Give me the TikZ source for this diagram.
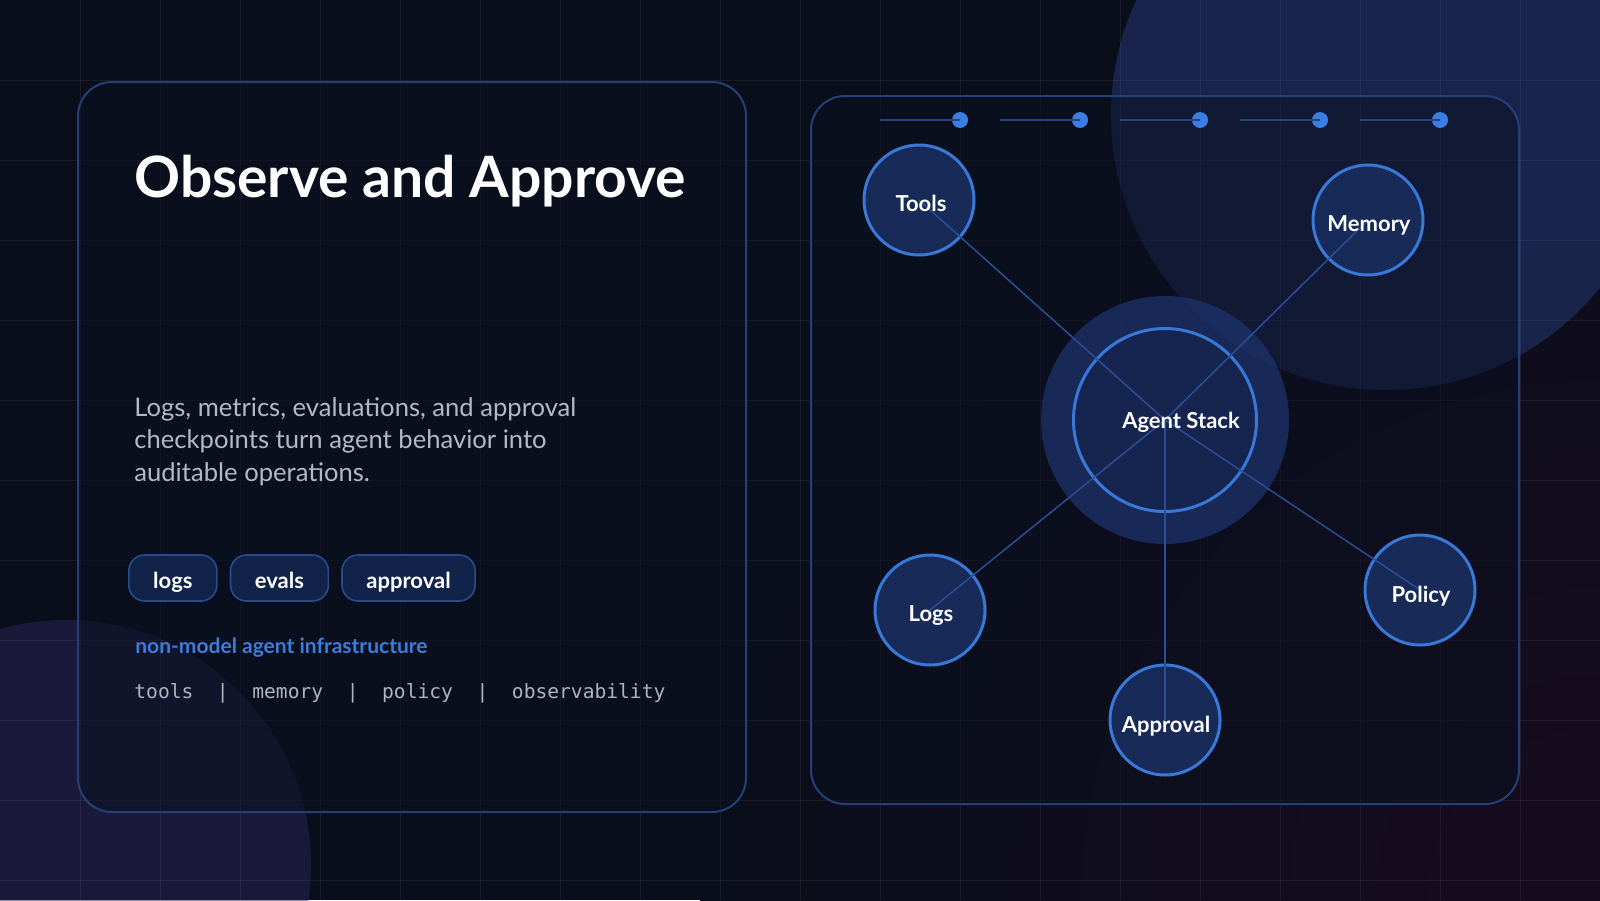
\documentclass[tikz,border=0pt]{standalone}
\usepackage{fontspec}
\setmainfont{Lato}
\newfontfamily\codefont{DejaVu Sans Mono}
\usetikzlibrary{positioning}
\definecolor{bgdark}{HTML}{0A0E1A}
\definecolor{bgplum}{HTML}{170C1E}
\definecolor{panelfill}{HTML}{0B1020}
\definecolor{panelline}{HTML}{24407A}
\definecolor{nodefill}{HTML}{172A58}
\definecolor{agentfill}{HTML}{16254F}
\definecolor{halofill}{HTML}{1E3470}
\definecolor{nodeline}{HTML}{3A78D8}
\definecolor{spokeblue}{HTML}{2B4E94}
\definecolor{railblue}{HTML}{27447A}
\definecolor{dotblue}{HTML}{3B7DE0}
\definecolor{accent}{HTML}{3B7DDD}
\definecolor{bodygray}{HTML}{B4B9C6}
\definecolor{monogray}{HTML}{B0B4BE}
\definecolor{pillfill}{HTML}{12234A}
\definecolor{pillline}{HTML}{294B8C}
\definecolor{orbblue}{HTML}{1D2C5C}
\definecolor{orbplum}{HTML}{2C2458}
\newcommand{\titlefont}{\fontsize{28.5pt}{34pt}\selectfont\bfseries}
\newcommand{\bodyfont}{\fontsize{12.8pt}{16.25pt}\selectfont}
\newcommand{\pillfont}{\fontsize{11pt}{13pt}\selectfont\bfseries}
\newcommand{\tagfont}{\fontsize{11pt}{13pt}\selectfont\bfseries}
\newcommand{\infrafont}{\fontsize{10.5pt}{12pt}\selectfont\bfseries}
\newcommand{\listfont}{\codefont\fontsize{9.8pt}{12pt}\selectfont}

\begin{document}
\begin{tikzpicture}[x=0.5pt,y=-0.5pt,
  panel/.style={draw=panelline,line width=1pt,fill=panelfill,fill opacity=0.5,rounded corners=17pt},
  pill/.style={draw=pillline,line width=0.8pt,fill=pillfill,rounded corners=8pt,minimum height=23pt,inner xsep=12.2pt,inner ysep=0pt,text height=10pt,text depth=0pt,text=white,font=\pillfont},
  orbit/.style={circle,draw=nodeline,line width=1.5pt,fill=nodefill,minimum size=55pt,inner sep=0pt},
  spoke/.style={draw=spokeblue,line width=0.75pt},
  tag/.style={text=white,font=\tagfont,inner sep=0pt,anchor=base},
  dot/.style={circle,fill=dotblue,minimum size=8pt,inner sep=0pt},
  rail/.style={draw=railblue,line width=1pt},
  gridln/.style={draw=white,draw opacity=0.06,line width=0.5pt}]
  \useasboundingbox (0,0) rectangle (1600,900);
  \clip (0,0) rectangle (1600,900);

  % background
  \fill[bgdark] (0,0) rectangle (1600,900);
  \shade[inner color=bgplum,outer color=bgdark] (1600,900) circle (900);
  \fill[orbblue,fill opacity=0.75] (1386,115) circle (275);
  \fill[orbplum,fill opacity=0.5] (66,865) circle (245);
  \foreach \x in {80,160,...,1520} \draw[gridln] (\x,0) -- (\x,900);
  \foreach \y in {80,160,...,880} \draw[gridln] (0,\y) -- (1600,\y);

  % panels
  \draw[panel] (78,82) rectangle (746,812);
  \draw[panel] (811,96) rectangle (1519,804);

  % left text
  \node[anchor=base west,inner sep=0pt,text=white,font=\titlefont] (title) at (134,197) {Observe and Approve};
  \node[anchor=base west,inner sep=0pt,align=left,text=bodygray,font=\bodyfont] (blurb) at (134,481)
    {Logs, metrics, evaluations, and approval\\checkpoints turn agent behavior into\\auditable operations.};
  \node[pill,anchor=west] (logs) at (128,578) {logs};
  \node[pill,right=6pt of logs] (evals) {evals};
  \node[pill,right=6pt of evals] (approval) {approval};
  \node[anchor=base west,inner sep=0pt,text=accent,font=\infrafont] (infra) at (135,653) {non-model agent infrastructure};
  \node[anchor=base west,inner sep=0pt,text=monogray,font=\listfont] (stack) at (134,698)
    {tools~~|~~memory~~|~~policy~~|~~observability};

  % progress rail
  \foreach \i in {0,...,4} {
    \coordinate (r\i) at (880+120*\i,120);
    \node[dot] (d\i) at (960+120*\i,120) {};
    \draw[rail] (r\i) -- (d\i.center);
  }

  % hub and spokes
  \node[circle,fill=halofill,fill opacity=0.7,minimum size=124pt,inner sep=0pt] (halo) at (1165,420) {};
  \node[orbit,fill=agentfill,minimum size=91.5pt] (agent) at (1165,420) {};
  \node[orbit] (tools) at (919,200) {};
  \node[orbit] (memory) at (1368,220) {};
  \node[orbit] (logsn) at (930,610) {};
  \node[orbit] (policy) at (1420,590) {};
  \node[orbit] (approvaln) at (1165,720) {};
  \foreach \n in {tools,memory,logsn,policy,approvaln}
    \draw[spoke] (agent.center) -- (\n.center);

  \node[tag] (agent-t) at (1181,428) {Agent Stack};
  \node[tag] (tools-t) at (921,211) {Tools};
  \node[tag] (memory-t) at (1369,231) {Memory};
  \node[tag] (logs-t) at (931,621) {Logs};
  \node[tag] (policy-t) at (1421,602) {Policy};
  \node[tag] (approval-t) at (1166,732) {Approval};
\end{tikzpicture}
\end{document}
